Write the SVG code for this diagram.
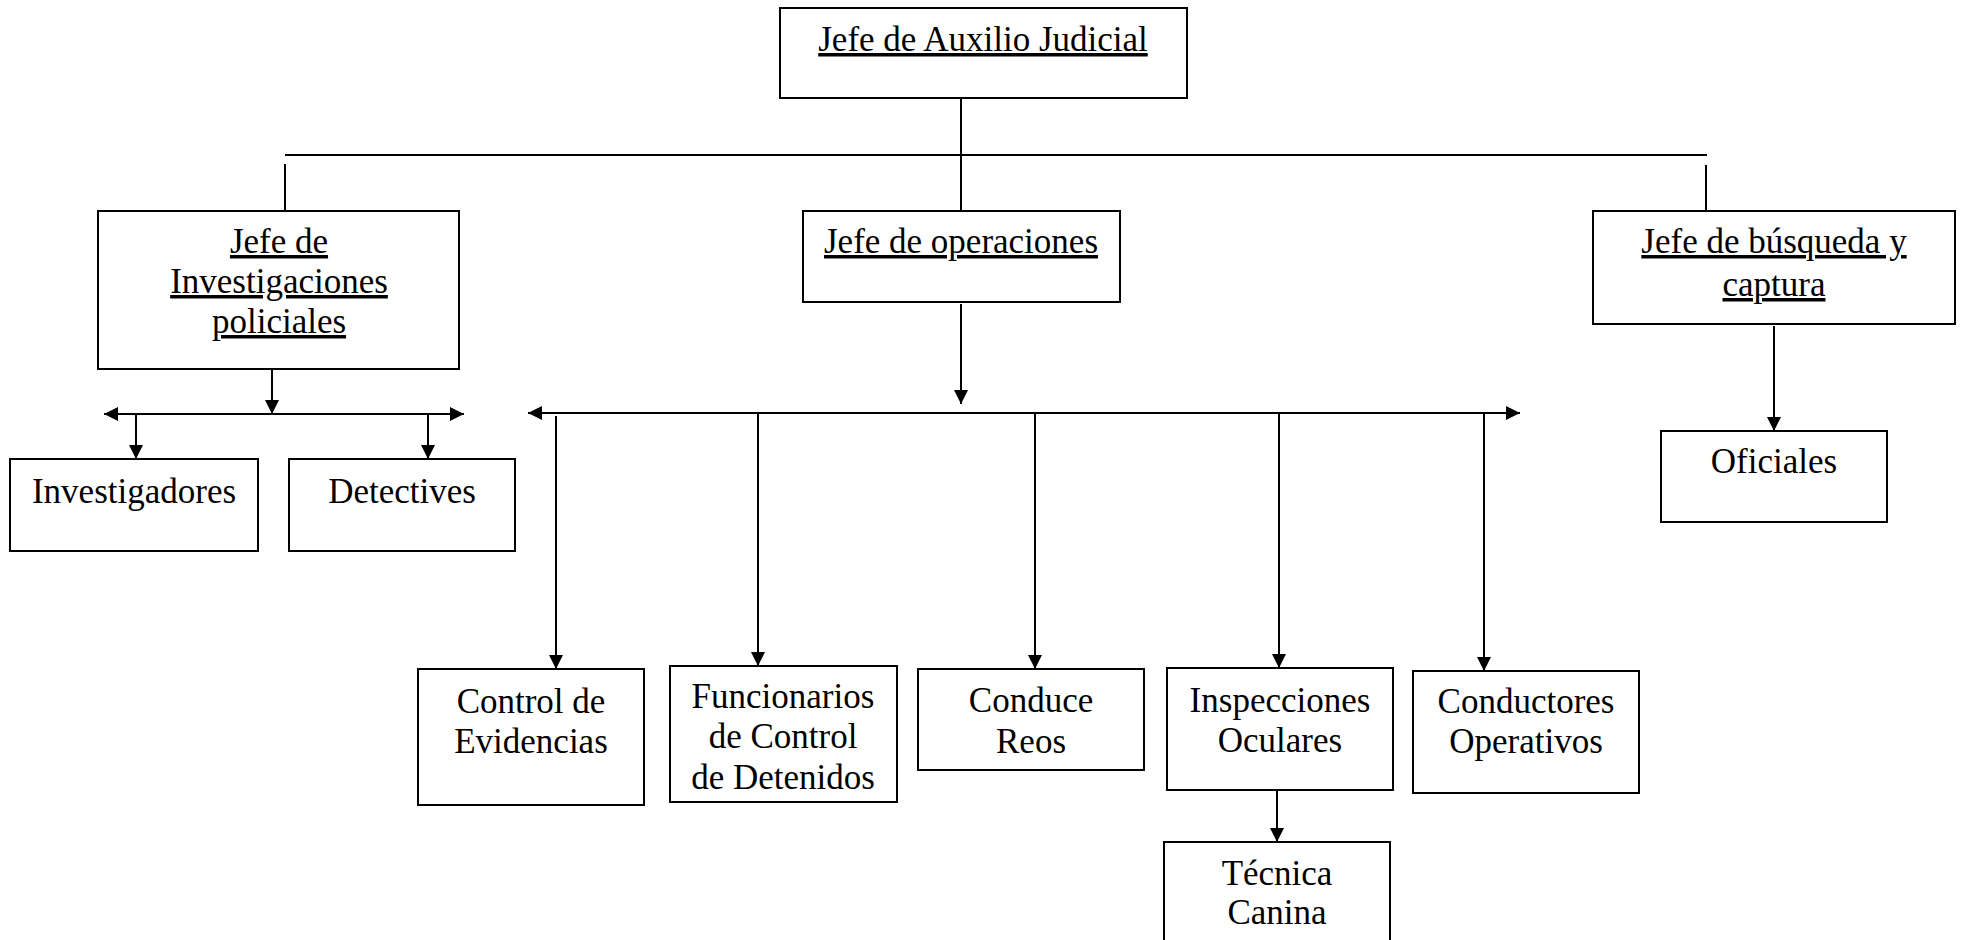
<svg xmlns="http://www.w3.org/2000/svg" width="1961" height="940" viewBox="0 0 1961 940">
<style>
.box{fill:#fff;stroke:#000;stroke-width:2}
.ln{stroke:#000;stroke-width:2;fill:none}
.t{font-family:"Liberation Serif","Times New Roman",serif;font-size:35px;fill:#000;text-anchor:middle}
.u{text-decoration:underline}
</style>
<defs>
<marker id="ah" markerUnits="userSpaceOnUse" markerWidth="14" markerHeight="14" refX="14" refY="7" orient="auto-start-reverse" viewBox="0 0 14 14">
<path d="M0,0 L14,7 L0,14 z" fill="#000"/>
</marker>
</defs>
<rect width="1961" height="940" fill="#fff"/>
<g id="connectors">
<line class="ln" x1="961" y1="98" x2="961" y2="211"/>
<line class="ln" x1="285" y1="155" x2="1707" y2="155"/>
<line class="ln" x1="285" y1="164" x2="285" y2="211"/>
<line class="ln" x1="1706" y1="165" x2="1706" y2="211"/>
<line class="ln" x1="272" y1="369" x2="272" y2="414" marker-end="url(#ah)"/>
<line class="ln" x1="104" y1="414" x2="464" y2="414" marker-start="url(#ah)" marker-end="url(#ah)"/>
<line class="ln" x1="136" y1="414" x2="136" y2="459" marker-end="url(#ah)"/>
<line class="ln" x1="428" y1="414" x2="428" y2="459" marker-end="url(#ah)"/>
<line class="ln" x1="961" y1="304" x2="961" y2="404" marker-end="url(#ah)"/>
<line class="ln" x1="528" y1="413" x2="1520" y2="413" marker-start="url(#ah)" marker-end="url(#ah)"/>
<line class="ln" x1="556" y1="416" x2="556" y2="669" marker-end="url(#ah)"/>
<line class="ln" x1="758" y1="414" x2="758" y2="666" marker-end="url(#ah)"/>
<line class="ln" x1="1035" y1="414" x2="1035" y2="669" marker-end="url(#ah)"/>
<line class="ln" x1="1279" y1="414" x2="1279" y2="668" marker-end="url(#ah)"/>
<line class="ln" x1="1484" y1="414" x2="1484" y2="671" marker-end="url(#ah)"/>
<line class="ln" x1="1277" y1="790" x2="1277" y2="842" marker-end="url(#ah)"/>
<line class="ln" x1="1774" y1="326" x2="1774" y2="431" marker-end="url(#ah)"/>
</g>
<g id="n-auxilio">
<rect class="box" x="780" y="8" width="407" height="90"/>
<text class="t u" x="983" y="51">Jefe de Auxilio Judicial</text>
</g>
<g id="n-investigaciones">
<rect class="box" x="98" y="211" width="361" height="158"/>
<text class="t u" x="279" y="253">Jefe de</text>
<text class="t u" x="279" y="293">Investigaciones</text>
<text class="t u" x="279" y="333">policiales</text>
</g>
<g id="n-operaciones">
<rect class="box" x="803" y="211" width="317" height="91"/>
<text class="t u" x="961" y="253">Jefe de operaciones</text>
</g>
<g id="n-busqueda">
<rect class="box" x="1593" y="211" width="362" height="113"/>
<text class="t u" x="1774" y="253">Jefe de búsqueda y</text>
<text class="t u" x="1774" y="296">captura</text>
</g>
<g id="n-investigadores">
<rect class="box" x="10" y="459" width="248" height="92"/>
<text class="t" x="134" y="503">Investigadores</text>
</g>
<g id="n-detectives">
<rect class="box" x="289" y="459" width="226" height="92"/>
<text class="t" x="402" y="503">Detectives</text>
</g>
<g id="n-oficiales">
<rect class="box" x="1661" y="431" width="226" height="91"/>
<text class="t" x="1774" y="473">Oficiales</text>
</g>
<g id="n-evidencias">
<rect class="box" x="418" y="669" width="226" height="136"/>
<text class="t" x="531" y="713">Control de</text>
<text class="t" x="531" y="753">Evidencias</text>
</g>
<g id="n-funcionarios">
<rect class="box" x="670" y="666" width="227" height="136"/>
<text class="t" x="783" y="708">Funcionarios</text>
<text class="t" x="783" y="748">de Control</text>
<text class="t" x="783" y="789">de Detenidos</text>
</g>
<g id="n-conduce">
<rect class="box" x="918" y="669" width="226" height="101"/>
<text class="t" x="1031" y="712">Conduce</text>
<text class="t" x="1031" y="753">Reos</text>
</g>
<g id="n-inspecciones">
<rect class="box" x="1167" y="668" width="226" height="122"/>
<text class="t" x="1280" y="712">Inspecciones</text>
<text class="t" x="1280" y="752">Oculares</text>
</g>
<g id="n-conductores">
<rect class="box" x="1413" y="671" width="226" height="122"/>
<text class="t" x="1526" y="713">Conductores</text>
<text class="t" x="1526" y="753">Operativos</text>
</g>
<g id="n-canina">
<rect class="box" x="1164" y="842" width="226" height="110"/>
<text class="t" x="1277" y="885">Técnica</text>
<text class="t" x="1277" y="924">Canina</text>
</g>
</svg>
